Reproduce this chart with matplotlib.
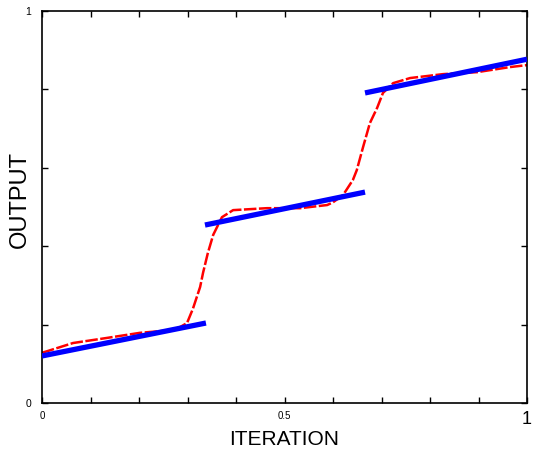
import matplotlib

matplotlib.use("Agg")
import matplotlib.pyplot as plt
import numpy as np

# blue fitted segments (start/end x, start/end y)
seg_x0 = [0.0, 0.336, 0.666]
seg_x1 = [0.338, 0.666, 1.0]
seg_y0 = [0.12, 0.454, 0.791]
seg_y1 = [0.204, 0.538, 0.877]

# red response curve
red_x = [0.0, 0.064, 0.134, 0.202, 0.27, 0.285, 0.299, 0.311, 0.326, 0.332,
         0.342, 0.353, 0.371, 0.394, 0.464, 0.532, 0.588, 0.6, 0.621, 0.641,
         0.649, 0.662, 0.676, 0.691, 0.703, 0.724, 0.759, 0.827, 0.897, 0.965, 1.0]
red_y = [0.128, 0.153, 0.166, 0.179, 0.186, 0.194, 0.204, 0.24, 0.296, 0.332,
         0.383, 0.429, 0.474, 0.492, 0.497, 0.497, 0.505, 0.512, 0.531, 0.569,
         0.594, 0.653, 0.714, 0.753, 0.791, 0.816, 0.829, 0.839, 0.844, 0.857, 0.862]

x_ticks = np.arange(0, 1.01, 0.1)
y_ticks = np.arange(0, 1.01, 0.2)

fig = plt.figure(figsize=(5.34, 4.57), dpi=100)
ax = fig.add_axes([0.0787, 0.1182, 0.9082, 0.8577])

ax.plot(red_x, red_y, color="red", lw=1.8, dashes=(5, 1.0), zorder=2)
for x0, x1, y0, y1 in zip(seg_x0, seg_x1, seg_y0, seg_y1):
    ax.plot([x0, x1], [y0, y1], color="blue", lw=3.8, solid_capstyle="butt", zorder=3)

ax.set_xlim(0, 1)
ax.set_ylim(0, 1)
ax.set_xticks(x_ticks)
ax.set_yticks(y_ticks)
ax.set_xticklabels(["0"] + [""] * 4 + ["0.5"] + [""] * 4 + ["1"], family="Liberation Sans")
ax.set_yticklabels(["0"] + [""] * 4 + ["1"], family="Liberation Sans")
xl = ax.get_xticklabels()
for t in xl:
    t.set_fontsize(7)
xl[-1].set_fontsize(13)
for t in ax.get_yticklabels():
    t.set_fontsize(7.5)
ax.tick_params(direction="in", length=4, width=1, top=True, right=True, pad=6)
ax.tick_params(axis="y", pad=8)
for s in ax.spines.values():
    s.set_linewidth(1.2)

ax.set_xlabel("ITERATION", family="Liberation Sans", fontsize=15, labelpad=1)
ax.set_ylabel("OUTPUT", family="Liberation Sans", fontsize=17)
ax.yaxis.set_label_coords(-0.022, 0.52)

fig.savefig("out.png", dpi=100)
plt.close(fig)
